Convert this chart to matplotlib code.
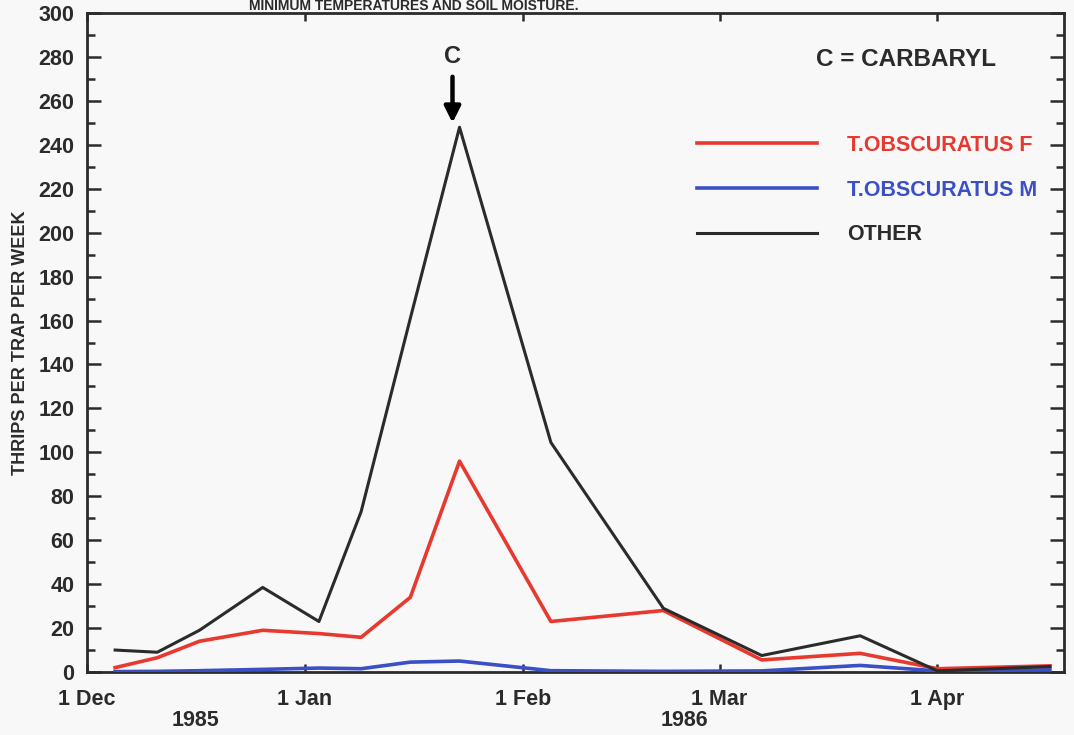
import datetime as dt
import matplotlib
matplotlib.use("Agg")
import matplotlib.pyplot as plt
from matplotlib.ticker import MultipleLocator

# sample dates (weekly trap counts)
dates = ["1985-12-05", "1985-12-11", "1985-12-17", "1985-12-26", "1986-01-03",
         "1986-01-09", "1986-01-16", "1986-01-23", "1986-02-05", "1986-02-21",
         "1986-03-07", "1986-03-21", "1986-04-01", "1986-04-17"]

obscuratus_f = [2, 6.5, 14, 19, 17.5, 15.8, 34, 96, 23, 28, 5.5, 8.5, 1.5, 2.8]
obscuratus_m = [0.2, 0.3, 0.6, 1.2, 1.8, 1.5, 4.5, 5, 0.6, 0.3, 0.5, 3, 0.5, 1]
other = [10, 9, 19, 38.5, 23, 73, 161, 248, 104.5, 29, 7.5, 16.5, 0.5, 2.5]

series_labels = ["T.OBSCURATUS F", "T.OBSCURATUS M", "OTHER"]
month_ticks = ["1985-12-01", "1986-01-01", "1986-02-01", "1986-03-01", "1986-04-01"]
month_labels = ["1 Dec", "1 Jan", "1 Feb", "1 Mar", "1 Apr"]
carbaryl_date = "1986-01-22"

x = [dt.datetime.fromisoformat(d) for d in dates]
tick_x = [dt.datetime.fromisoformat(d) for d in month_ticks]
c_x = dt.datetime.fromisoformat(carbaryl_date)

plt.rcParams["font.family"] = ["Liberation Sans", "DejaVu Sans"]
plt.rcParams["font.weight"] = "bold"

fig = plt.figure(figsize=(10.74, 7.35), dpi=100, facecolor="#f8f8f8")
ax = fig.add_axes([0.081, 0.0857, 0.9097, 0.8966])
ax.set_facecolor("#f8f8f8")

red = "#e8392f"
blue = "#3b4fc6"
black = "#2b2b2b"

ax.plot(x, obscuratus_f, color=red, lw=2.6, label=series_labels[0], zorder=3)
ax.plot(x, obscuratus_m, color=blue, lw=2.6, label=series_labels[1], zorder=3)
ax.plot(x, other, color=black, lw=2.2, label=series_labels[2], zorder=4)

ax.set_xlim(dt.datetime(1985, 12, 1), dt.datetime(1986, 4, 19))
ax.set_ylim(0, 300)

ax.set_xticks(tick_x)
ax.set_xticklabels(month_labels)
ax.xaxis.set_minor_locator(plt.NullLocator())
ax.yaxis.set_major_locator(MultipleLocator(20))
ax.yaxis.set_minor_locator(MultipleLocator(10))

ax.tick_params(axis="both", which="both", direction="in", top=True, right=True,
               color=black, width=1.8, labelsize=15.5, labelcolor=black)
ax.tick_params(axis="y", which="major", length=10, pad=9)
ax.tick_params(axis="y", which="minor", length=6)
ax.tick_params(axis="x", which="major", length=6, pad=12)
for s in ax.spines.values():
    s.set_linewidth(2)
    s.set_color(black)

ax.set_ylabel("THRIPS PER TRAP PER WEEK", fontsize=13, fontweight="bold",
              color=black, labelpad=7)

# year labels under the month ticks
ax.text(0.1108, -0.073, "1985", transform=ax.transAxes, ha="center", va="center",
        fontsize=15.5, color=black)
ax.text(0.612, -0.073, "1986", transform=ax.transAxes, ha="center", va="center",
        fontsize=15.5, color=black)

# carbaryl application
ax.annotate("C", xy=(c_x, 250), xytext=(c_x, 280), ha="center", va="center",
            fontsize=17, color=black,
            arrowprops=dict(arrowstyle="-|>", color="black", lw=3.2,
                            mutation_scale=24, shrinkA=4, shrinkB=0))
ax.text(0.746, 0.9287, "C = CARBARYL", transform=ax.transAxes, ha="left",
        va="center", fontsize=17.5, color=black)

leg = ax.legend(loc="upper left", bbox_to_anchor=(0.624, 0.815), frameon=False,
                prop={"size": 15.5, "weight": "bold"}, handlelength=5.6,
                handletextpad=1.4, labelspacing=1.1, borderpad=0,
                borderaxespad=0, labelcolor="linecolor")

# title strip above the frame (cut off in the scan)
fig.text(0.385, 1 - 10 / 735, "MINIMUM TEMPERATURES AND SOIL MOISTURE.",
         ha="center", va="baseline", fontsize=10, color=black)

fig.savefig("out.png", dpi=100, facecolor=fig.get_facecolor())
